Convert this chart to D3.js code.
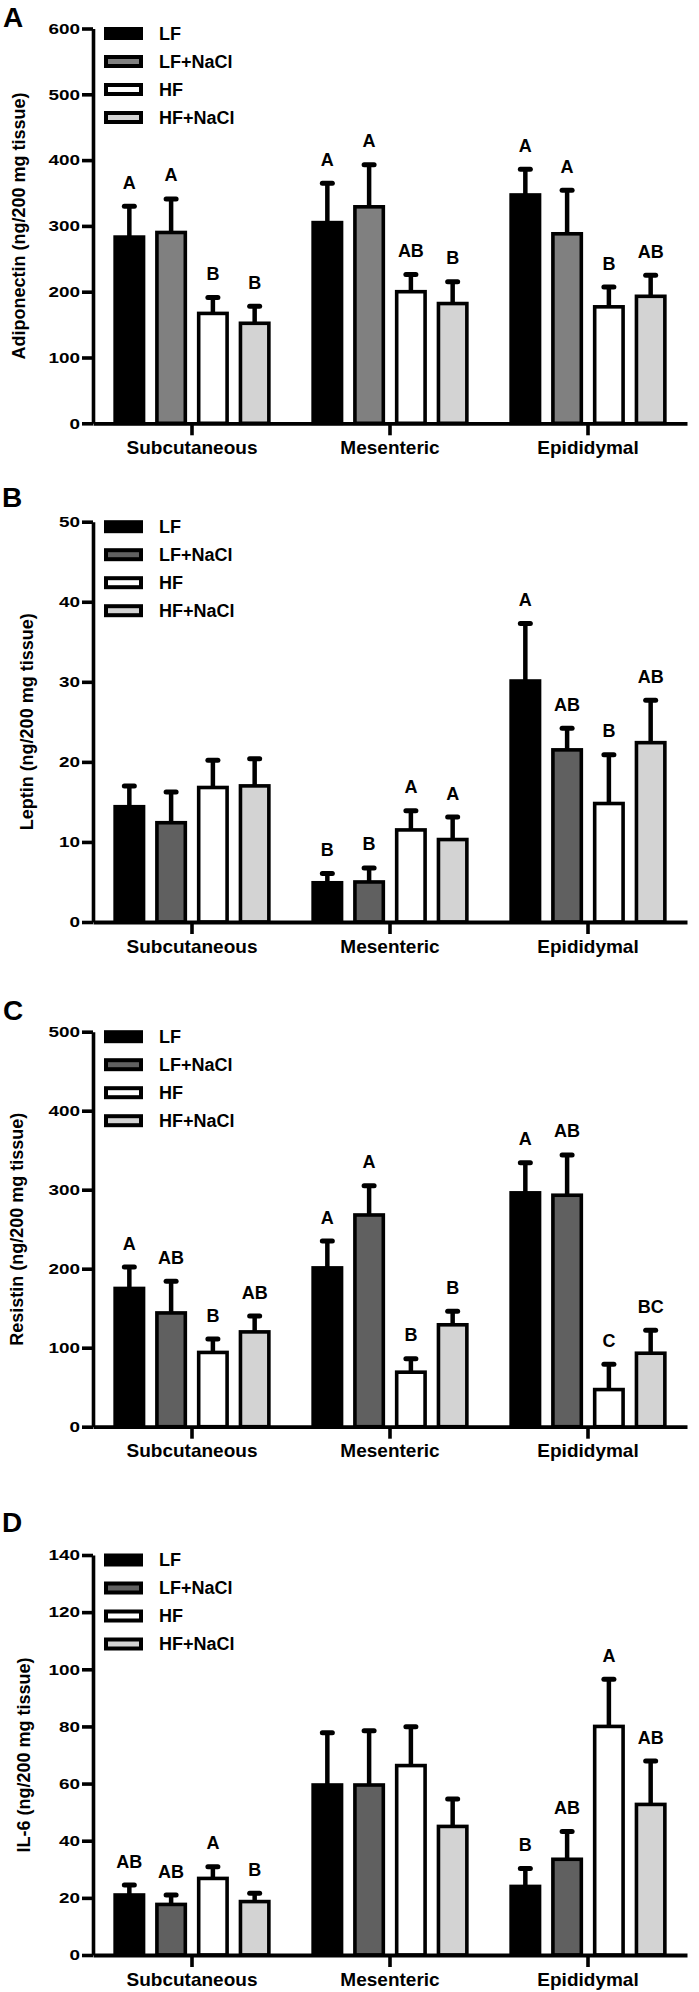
<!DOCTYPE html>
<html>
<head>
<meta charset="utf-8">
<script src="https://cdn.jsdelivr.net/npm/d3@7"></script>
<style>
  html, body { margin: 0; padding: 0; background: #fff; }
  svg text { font-family: "Liberation Sans", Arial, Helvetica, sans-serif; font-weight: bold; fill: #000; }
</style>
</head>
<body>
<svg id="chart" width="699" height="1992"></svg>
<script>
// ---------- DATA ----------
const categories = ["Subcutaneous", "Mesenteric", "Epididymal"];
const series = ["LF", "LF+NaCl", "HF", "HF+NaCl"];

// Panel A: Adiponectin
const adipoMean = { "LF": [283, 305, 347], "LF+NaCl": [290, 329, 288], "HF": [167, 200, 177], "HF+NaCl": [152, 182, 193] };
const adipoSem  = { "LF": [47, 60, 39],    "LF+NaCl": [51, 64, 66],    "HF": [24, 26, 30],    "HF+NaCl": [26, 33, 32] };
const adipoLetters = { "LF": ["A", "A", "A"], "LF+NaCl": ["A", "A", "A"], "HF": ["B", "AB", "B"], "HF+NaCl": ["B", "B", "AB"] };
const adipoTicks = [0, 100, 200, 300, 400, 500, 600];

// Panel B: Leptin
const leptinMean = { "LF": [14.4, 4.9, 30.1], "LF+NaCl": [12.4, 5.0, 21.5], "HF": [16.8, 11.5, 14.8], "HF+NaCl": [17.0, 10.3, 22.4] };
const leptinSem  = { "LF": [2.6, 1.15, 7.2],  "LF+NaCl": [3.85, 1.75, 2.7], "HF": [3.4, 2.4, 6.1],    "HF+NaCl": [3.4, 2.8, 5.3] };
const leptinLetters = { "LF": ["", "B", "A"], "LF+NaCl": ["", "B", "AB"], "HF": ["", "A", "B"], "HF+NaCl": ["", "A", "AB"] };
const leptinTicks = [0, 10, 20, 30, 40, 50];

// Panel C: Resistin
const resistinMean = { "LF": [175, 201, 296], "LF+NaCl": [144, 268, 293], "HF": [94, 69, 47], "HF+NaCl": [120, 129, 93] };
const resistinSem  = { "LF": [27, 34, 38],    "LF+NaCl": [40, 37, 51],    "HF": [17, 17, 32], "HF+NaCl": [20, 17, 29] };
const resistinLetters = { "LF": ["A", "A", "A"], "LF+NaCl": ["AB", "A", "AB"], "HF": ["B", "B", "C"], "HF+NaCl": ["AB", "B", "BC"] };
const resistinTicks = [0, 100, 200, 300, 400, 500];

// Panel D: IL-6
const il6Mean = { "LF": [21, 59.5, 24],   "LF+NaCl": [17.7, 59.5, 33.5], "HF": [26.8, 66.3, 80],  "HF+NaCl": [18.7, 45, 52.7] };
const il6Sem  = { "LF": [3.5, 18.3, 6.3], "LF+NaCl": [3.3, 19, 9.7],     "HF": [4.1, 13.6, 16.5], "HF+NaCl": [2.9, 9.6, 15.2] };
const il6Letters = { "LF": ["AB", "", "B"], "LF+NaCl": ["AB", "", "AB"], "HF": ["A", "", "A"], "HF+NaCl": ["B", "", "AB"] };
const il6Ticks = [0, 20, 40, 60, 80, 100, 120, 140];

const panelLetters = ["A", "B", "C", "D"];
const yTitles = ["Adiponectin (ng/200 mg tissue)", "Leptin (ng/200 mg tissue)", "Resistin (ng/200 mg tissue)", "IL-6 (ng/200 mg tissue)"];

// ---------- LAYOUT / STYLE ----------
const panels = [
  { mean: adipoMean, sem: adipoSem, letters: adipoLetters, ticks: adipoTicks, top: 28.5, zero: 423.3, midGray: "#808080", letterY: 27, letterX: 3, titleX: 24.5 },
  { mean: leptinMean, sem: leptinSem, letters: leptinLetters, ticks: leptinTicks, top: 521.7, zero: 922, midGray: "#606060", letterY: 507, letterX: 2, titleX: 33 },
  { mean: resistinMean, sem: resistinSem, letters: resistinLetters, ticks: resistinTicks, top: 1031.7, zero: 1426.7, midGray: "#606060", letterY: 1020, letterX: 3, titleX: 23 },
  { mean: il6Mean, sem: il6Sem, letters: il6Letters, ticks: il6Ticks, top: 1555, zero: 1955, midGray: "#606060", letterY: 1531.5, letterX: 2, titleX: 29.5 }
];

const xLeft = 93, xRight = 687;
const svg = d3.select("#chart");
svg.append("rect").attr("width", 699).attr("height", 1992).attr("fill", "#fff");

const x0 = d3.scaleBand().domain(categories).range([xLeft, xRight]).padding(0);
const x1 = d3.scaleBand().domain(series).range([0, x0.bandwidth()]).paddingInner(0.32).paddingOuter(0.53);

panels.forEach((p, pi) => {
  const g = svg.append("g");
  const yMax = d3.max(p.ticks);
  const y = d3.scaleLinear().domain([0, yMax]).range([p.zero, p.top]);
  const fill = d3.scaleOrdinal().domain(series).range(["#000000", p.midGray, "#ffffff", "#d3d3d3"]);

  // panel letter
  g.append("text").attr("x", p.letterX).attr("y", p.letterY)
    .style("font-size", "28px").text(panelLetters[pi]);

  // y title
  const cy = (p.top + p.zero) / 2;
  g.append("text").attr("transform", `translate(${p.titleX},${cy}) rotate(-90)`)
    .attr("text-anchor", "middle").style("font-size", "18px").text(yTitles[pi]);

  // bars
  const rows = [];
  categories.forEach((c, ci) => series.forEach(s => rows.push({ c, s, v: p.mean[s][ci], e: p.sem[s][ci], l: p.letters[s][ci] })));

  const bars = g.append("g");
  bars.selectAll("rect").data(rows).join("rect")
    .attr("x", d => x0(d.c) + x1(d.s))
    .attr("y", d => y(d.v))
    .attr("width", x1.bandwidth())
    .attr("height", d => y(0) - y(d.v))
    .attr("fill", d => fill(d.s))
    .attr("stroke", "#000").attr("stroke-width", 3.6);

  // error bars
  const cx = d => x0(d.c) + x1(d.s) + x1.bandwidth() / 2;
  bars.selectAll("line.stem").data(rows).join("line").attr("class", "stem")
    .attr("x1", cx).attr("x2", cx)
    .attr("y1", d => y(d.v)).attr("y2", d => y(d.v + d.e))
    .attr("stroke", "#000").attr("stroke-width", 4.5);
  bars.selectAll("line.cap").data(rows).join("line").attr("class", "cap")
    .attr("x1", d => cx(d) - 5).attr("x2", d => cx(d) + 5)
    .attr("y1", d => y(d.v + d.e)).attr("y2", d => y(d.v + d.e))
    .attr("stroke", "#000").attr("stroke-width", 5).attr("stroke-linecap", "round");

  // letters
  bars.selectAll("text.sig").data(rows.filter(d => d.l)).join("text").attr("class", "sig")
    .attr("x", cx).attr("y", d => y(d.v + d.e) - 17.5)
    .attr("text-anchor", "middle").style("font-size", "18px").text(d => d.l);

  // y axis
  const yAxis = g.append("g").attr("transform", `translate(${xLeft},0)`)
    .call(d3.axisLeft(y).tickValues(p.ticks).tickSize(11).tickSizeOuter(0).tickPadding(2).tickFormat(d3.format("d")));
  yAxis.select(".domain").attr("stroke-width", 3.6);
  yAxis.selectAll(".tick line").attr("stroke-width", 3.6);
  yAxis.selectAll(".tick text").style("font-size", "15px")
    .attr("textLength", d => String(d).length * 10.5).attr("lengthAdjust", "spacingAndGlyphs");

  // x axis
  const xAxis = g.append("g").attr("transform", `translate(0,${p.zero})`)
    .call(d3.axisBottom(x0).tickSize(12).tickSizeOuter(0));
  xAxis.select(".domain").attr("stroke-width", 3.8);
  xAxis.selectAll(".tick line").attr("stroke-width", 3.6);
  xAxis.selectAll(".tick text").attr("y", 30.5).attr("dy", null).style("font-size", "19px");

  // legend
  const leg = g.append("g");
  series.forEach((s, si) => {
    const ry = p.top + 5 + si * 28;
    leg.append("rect").attr("x", 106).attr("y", ry - 4.5).attr("width", 35).attr("height", 9)
      .attr("fill", fill(s)).attr("stroke", "#000").attr("stroke-width", 4);
    leg.append("text").attr("x", 159).attr("y", ry).attr("dy", "0.35em")
      .style("font-size", "18px").text(s);
  });
});
</script>
</body>
</html>
